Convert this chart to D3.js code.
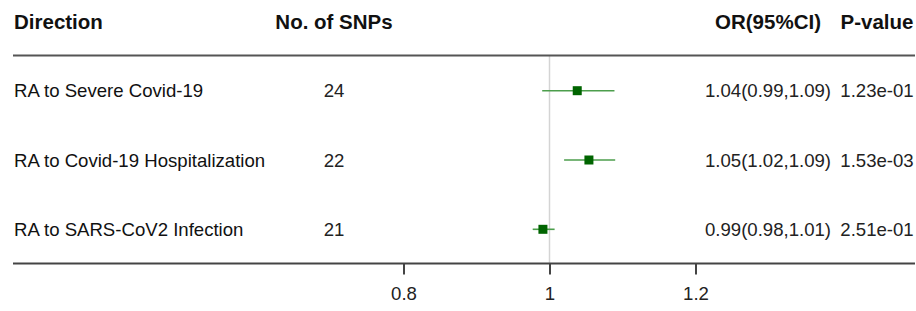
<!DOCTYPE html>
<html>
<head>
<meta charset="utf-8">
<script src="https://cdn.jsdelivr.net/npm/d3@7"></script>
<style>
    body { margin: 0; background: #fff; }
    svg { display: block; font-family: "Liberation Sans", Arial, sans-serif; }
</style>
</head>
<body>
<div id="chart"></div>
<script>
"use strict";

//
// Data
//

var directions = ["RA to Severe Covid-19", "RA to Covid-19 Hospitalization", "RA to SARS-CoV2 Infection"];
var snpCounts = [24, 22, 21];
var orValues = [1.038, 1.054, 0.991];
var ciLower = [0.99, 1.02, 0.977];
var ciUpper = [1.089, 1.09, 1.007];
var orLabels = ["1.04(0.99,1.09)", "1.05(1.02,1.09)", "0.99(0.98,1.01)"];
var pLabels = ["1.23e-01", "1.53e-03", "2.51e-01"];
var headers = ["Direction", "No. of SNPs", "OR(95%CI)", "P-value"];
var tickValues = [0.8, 1, 1.2];


//
// Layout
//

var width = 916,
    height = 311;

var cols = { direction: 14, snps: 334, or: 768, p: 877 };
var lineLeft = 13, lineRight = 915;
var headerLineY = 55.5, axisY = 263.5;

var svg = d3.select("#chart").append("svg")
    .attr("width", width)
    .attr("height", height);

var x = d3.scaleLinear().domain([0.8, 1.2]).range([403.5, 695.5]);

var y = d3.scalePoint().domain(directions).range([90.7, 229.3]);

var rows = directions.map(function (d, i) {
    return {
        direction: d,
        snps: snpCounts[i],
        or: orValues[i],
        lo: ciLower[i],
        hi: ciUpper[i],
        orLabel: orLabels[i],
        pLabel: pLabels[i]
    };
});


//
// Reference line at OR = 1
//

svg.append("line")
    .attr("x1", x(1)).attr("x2", x(1))
    .attr("y1", headerLineY).attr("y2", axisY)
    .style("stroke", "#d4d4d4")
    .style("stroke-width", 1.5);


//
// Header
//

var headerX = [cols.direction, cols.snps, cols.or, cols.p];
var headerAnchor = ["start", "middle", "middle", "middle"];

svg.selectAll("text.header")
    .data(headers)
    .enter().append("text")
    .attr("class", "header")
    .attr("x", function (d, i) { return headerX[i]; })
    .attr("y", 29)
    .attr("text-anchor", function (d, i) { return headerAnchor[i]; })
    .style("font-size", "20.5px")
    .style("font-weight", "bold")
    .style("fill", "#111")
    .text(function (d) { return d; });

svg.append("line")
    .attr("x1", lineLeft).attr("x2", lineRight)
    .attr("y1", headerLineY).attr("y2", headerLineY)
    .style("stroke", "#555")
    .style("stroke-width", 2);


//
// Rows
//

var row = svg.selectAll("g.row")
    .data(rows)
    .enter().append("g")
    .attr("class", "row")
    .attr("transform", function (d) { return "translate(0," + y(d.direction) + ")"; });

row.append("text")
    .attr("x", cols.direction)
    .attr("y", 6.5)
    .style("font-size", "18.6px")
    .style("fill", "#111")
    .text(function (d) { return d.direction; });

row.append("text")
    .attr("x", cols.snps)
    .attr("y", 6.5)
    .attr("text-anchor", "middle")
    .style("font-size", "18.6px")
    .style("fill", "#222")
    .text(function (d) { return d.snps; });

row.append("text")
    .attr("x", cols.or)
    .attr("y", 6.5)
    .attr("text-anchor", "middle")
    .style("font-size", "18.6px")
    .style("fill", "#222")
    .text(function (d) { return d.orLabel; });

row.append("text")
    .attr("x", cols.p)
    .attr("y", 6.5)
    .attr("text-anchor", "middle")
    .style("font-size", "18.6px")
    .style("fill", "#222")
    .text(function (d) { return d.pLabel; });

// confidence interval
row.append("line")
    .attr("x1", function (d) { return x(d.lo); })
    .attr("x2", function (d) { return x(d.hi); })
    .attr("y1", 0).attr("y2", 0)
    .style("stroke", "#4c9e4c")
    .style("stroke-width", 1.6);

// point estimate
row.append("rect")
    .attr("x", function (d) { return x(d.or) - 4.5; })
    .attr("y", -4.5)
    .attr("width", 9)
    .attr("height", 9)
    .style("fill", "#006400");


//
// Axis
//

svg.append("line")
    .attr("x1", lineLeft).attr("x2", lineRight)
    .attr("y1", axisY).attr("y2", axisY)
    .style("stroke", "#444")
    .style("stroke-width", 2);

var axis = svg.append("g")
    .attr("transform", "translate(0," + axisY + ")")
    .call(d3.axisBottom(x)
        .tickValues(tickValues)
        .tickSize(11)
        .tickPadding(12)
        .tickFormat(d3.format("~g")));

axis.select(".domain").remove();

axis.selectAll(".tick line")
    .style("stroke", "#444")
    .style("stroke-width", 2);

axis.selectAll(".tick text")
    .style("font-size", "18.6px")
    .style("font-family", "\"Liberation Sans\", Arial, sans-serif")
    .style("fill", "#222");

</script>
</body>
</html>
